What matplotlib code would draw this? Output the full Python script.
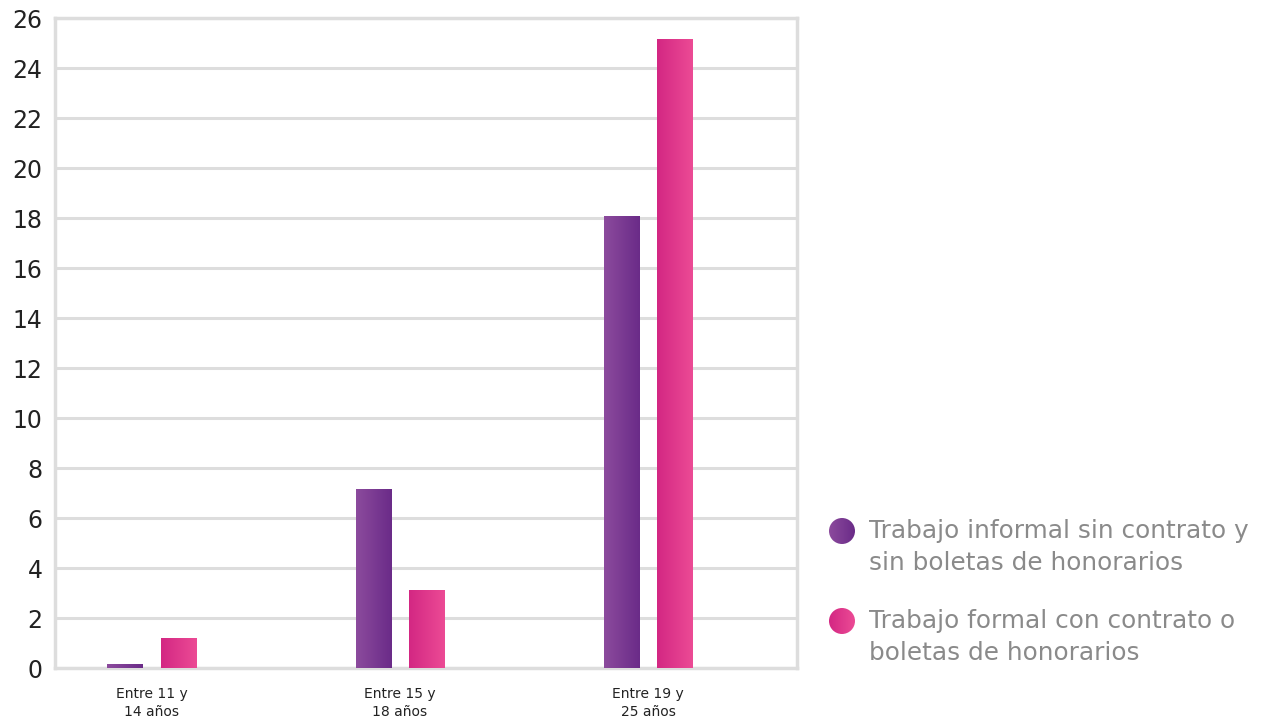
import numpy as np
import matplotlib
matplotlib.use("Agg")
import matplotlib.pyplot as plt
from matplotlib.colors import LinearSegmentedColormap
from matplotlib.patches import Rectangle, Circle

plt.rcParams['font.family'] = ['DejaVu Sans']

# datos
categorias = ["Entre 11 y\n14 años", "Entre 15 y\n18 años", "Entre 19 y\n25 años"]
informal = [0.16, 7.16, 18.08]
formal = [1.2, 3.12, 25.16]
series = ["Trabajo informal sin contrato y\nsin boletas de honorarios",
          "Trabajo formal con contrato o\nboletas de honorarios"]
ticks_y = list(range(0, 27, 2))

# degradados (izquierda -> derecha)
cmap_informal = LinearSegmentedColormap.from_list("inf", ["#8c4b9d", "#6a2b88"])
cmap_formal = LinearSegmentedColormap.from_list("for", ["#d32783", "#ec4b95"])
grad = np.linspace(0, 1, 256).reshape(1, -1)

fig = plt.figure(figsize=(12.63, 7.2), dpi=100)
ax = fig.add_axes([55 / 1263, 1 - 668 / 720, 742 / 1263, 650 / 720])

x = np.arange(len(categorias))
ancho = 0.142
desp = 0.108

def barra_degradado(ax, xc, h, cmap):
    rect = Rectangle((xc - ancho / 2, 0), ancho, h, facecolor="none", edgecolor="none")
    ax.add_patch(rect)
    im = ax.imshow(grad, cmap=cmap, aspect="auto", extent=(xc - ancho / 2, xc + ancho / 2, 0, h),
                   zorder=3, interpolation="bilinear")
    im.set_clip_path(rect)

for i in range(len(categorias)):
    barra_degradado(ax, x[i] - desp, informal[i], cmap_informal)
    barra_degradado(ax, x[i] + desp, formal[i], cmap_formal)

ax.set_xlim(-0.39, 2.6)
ax.set_ylim(0, 26)
ax.set_yticks(ticks_y)
ax.set_yticklabels([str(t) for t in ticks_y], fontsize=17, color="#222222")
ax.set_xticks(x)
ax.set_xticklabels(categorias, fontsize=10, color="#222222", linespacing=1.3)
ax.tick_params(length=0)
ax.tick_params(axis="x", pad=14)
ax.tick_params(axis="y", pad=9)
ax.grid(axis="y", color="#dddddd", linewidth=2.2, zorder=0)
ax.set_axisbelow(True)
for s in ax.spines.values():
    s.set_color("#dddddd")
    s.set_linewidth(2.5)

# leyenda con círculos en degradado
leyenda_y = [531, 621]
for serie, cmap, yp in zip(series, [cmap_informal, cmap_formal], leyenda_y):
    r = 13
    lax = fig.add_axes([(842 - r) / 1263, 1 - (yp + r) / 720, 2 * r / 1263, 2 * r / 720])
    lax.set_xlim(0, 1)
    lax.set_ylim(0, 1)
    lax.axis("off")
    c = Circle((0.5, 0.5), 0.5, transform=lax.transAxes, facecolor="none", edgecolor="none")
    lax.add_patch(c)
    im = lax.imshow(grad, cmap=cmap, aspect="auto", extent=(0, 1, 0, 1), interpolation="bilinear")
    im.set_clip_path(c)
    fig.text(869 / 1263, 1 - (yp + 16) / 720, serie, fontsize=17.8, color="#8a8a8a",
             ha="left", va="center", linespacing=1.4)

fig.savefig("out.png", dpi=100)
